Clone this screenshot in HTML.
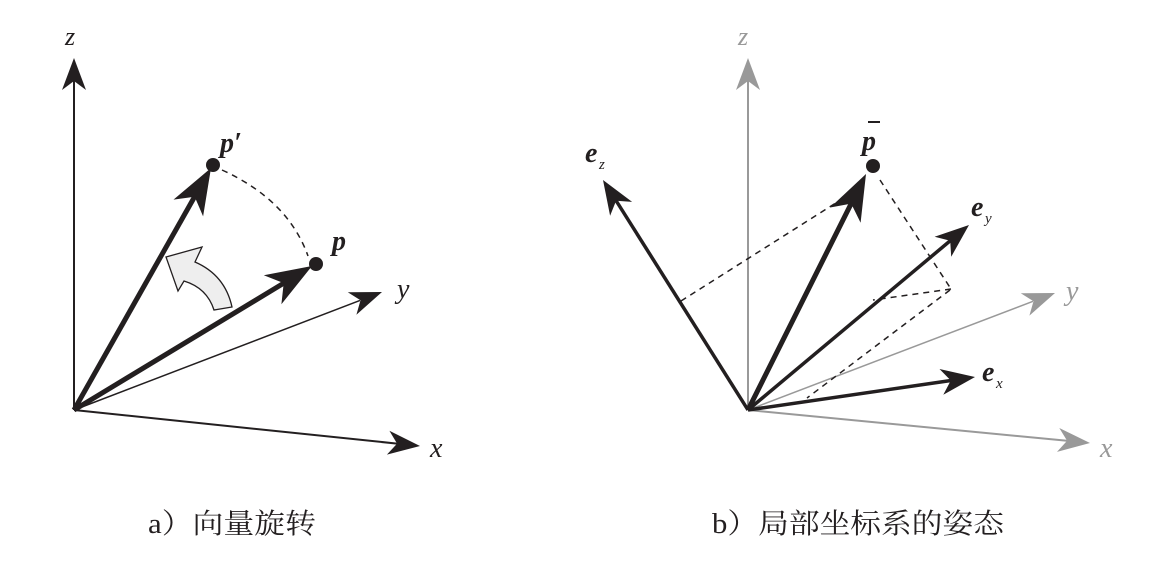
<!DOCTYPE html>
<html><head><meta charset="utf-8"><style>
html,body{margin:0;padding:0;background:#fff}
svg{display:block}
.it{font-family:"Liberation Serif",serif;font-style:italic}
.bi{font-family:"Liberation Serif",serif;font-style:italic;font-weight:bold}
.cap{font-family:"Liberation Serif","Noto Serif CJK SC",serif;font-size:28px}
</style></head><body>
<svg width="1173" height="564" viewBox="0 0 1173 564" xmlns="http://www.w3.org/2000/svg">
<g stroke="#231f20" fill="none">
<line x1="74" y1="410" x2="74" y2="80" stroke-width="2"/>
<line x1="74" y1="410" x2="397" y2="443.6" stroke-width="2"/>
<line x1="74" y1="410" x2="360" y2="300.4" stroke-width="1.5"/>
<line x1="74" y1="410" x2="284" y2="283" stroke-width="5"/>
<line x1="74" y1="410" x2="195" y2="196" stroke-width="5"/>
<path d="M222,170 Q288,200 308,256" stroke-width="1.5" stroke-dasharray="6,5"/>
<path d="M166,257 L202,247 L195,262 Q225,275 232,307 L214,310 Q207,288 184,281 L178,291 Z" fill="#eee" stroke-width="1.3"/>
</g>
<g fill="#231f20">
<polygon points="74,58 86,90 74,81 62,90"/>
<polygon points="420,446 386.9,454.6 397.1,443.6 389.4,430.8"/>
<polygon points="382,292 356.4,314.7 360.5,300.3 347.8,292.3"/>
<polygon points="312,266 281.4,304.3 283.7,283.1 263.8,275.3"/>
<polygon points="211,168 203.1,216.4 194.7,196.8 173.5,199.6"/>
</g>
<circle cx="213" cy="165" r="7" fill="#231f20"/>
<circle cx="316" cy="264" r="7" fill="#231f20"/>
<text x="65" y="45" class="it" font-size="26" fill="#231f20">z</text>
<text x="220" y="152" class="bi" font-size="28" fill="#231f20">p′</text>
<text x="332" y="250" class="bi" font-size="28" fill="#231f20">p</text>
<text x="397" y="298" class="it" font-size="28" fill="#231f20">y</text>
<text x="430" y="457" class="it" font-size="28" fill="#231f20">x</text>
<g fill="none">
<line x1="748" y1="410" x2="748" y2="80" stroke="#999" stroke-width="2"/>
<line x1="748" y1="410" x2="1067" y2="440.8" stroke="#999" stroke-width="2"/>
<line x1="748" y1="410" x2="1033" y2="301.3" stroke="#999" stroke-width="1.5"/>
<g stroke="#231f20" stroke-width="1.5" stroke-dasharray="6,5">
<line x1="681" y1="301" x2="850" y2="194"/>
<line x1="880" y1="180" x2="951" y2="289"/>
<line x1="951" y1="289" x2="873" y2="300"/>
<line x1="950" y1="290" x2="807" y2="398"/>
</g>
<line x1="748" y1="410" x2="616" y2="200.5" stroke="#231f20" stroke-width="3.5"/>
<line x1="748" y1="410" x2="950.5" y2="240.5" stroke="#231f20" stroke-width="3.5"/>
<line x1="748" y1="410" x2="951" y2="380.5" stroke="#231f20" stroke-width="3.5"/>
<line x1="748" y1="410" x2="851.5" y2="203" stroke="#231f20" stroke-width="5"/>
</g>
<g fill="#999">
<polygon points="748,58 760,90 748,81 736,90"/>
<polygon points="1090,443 1057,451.9 1067.1,440.8 1059.3,428"/>
<polygon points="1055,293 1029.4,315.6 1033.5,301.2 1020.8,293.2"/>
</g>
<g fill="#231f20">
<polygon points="603,180 632.1,201.9 616.1,200.7 610.1,215.7"/>
<polygon points="969,225 951.2,256.8 950.2,240.7 934.6,236.8"/>
<polygon points="975,377 943.3,394.8 950.8,380.5 939.5,369"/>
<polygon points="866,174 860.6,222.7 851.2,203.6 830.2,207.5"/>
</g>
<circle cx="873" cy="166" r="7" fill="#231f20"/>
<text x="738" y="45" class="it" font-size="26" fill="#999">z</text>
<text x="862" y="150" class="bi" font-size="28" fill="#231f20">p</text>
<line x1="868" y1="122" x2="880" y2="122" stroke="#231f20" stroke-width="2"/>
<text x="585" y="162" class="bi" font-size="28" fill="#231f20">e</text>
<text x="599" y="169" class="it" font-size="15" fill="#231f20">z</text>
<text x="971" y="216" class="bi" font-size="28" fill="#231f20">e</text>
<text x="985" y="223" class="it" font-size="15" fill="#231f20">y</text>
<text x="982" y="381" class="bi" font-size="28" fill="#231f20">e</text>
<text x="996" y="388" class="it" font-size="15" fill="#231f20">x</text>
<text x="1066" y="300" class="it" font-size="28" fill="#999">y</text>
<text x="1100" y="457" class="it" font-size="28" fill="#999">x</text>
<text x="148" y="533" class="cap" fill="#231f20" textLength="168" lengthAdjust="spacingAndGlyphs">a）向量旋转</text>
<text x="712" y="533" class="cap" fill="#231f20" textLength="292" lengthAdjust="spacingAndGlyphs">b）局部坐标系的姿态</text>
</svg>
</body></html>
